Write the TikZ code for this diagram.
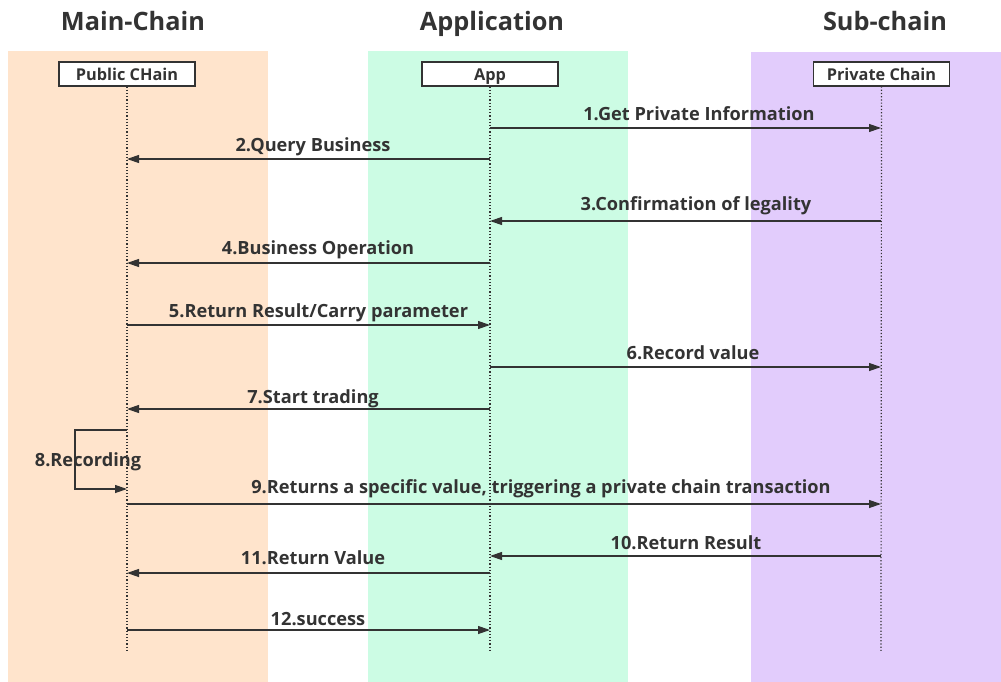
\documentclass[tikz,border=0pt]{standalone}
\usepackage{fontspec}
\setmainfont{Open Sans}
\usetikzlibrary{arrows.meta}
\definecolor{ink}{HTML}{333333}
\definecolor{mainband}{HTML}{FFE4CC}
\definecolor{appband}{HTML}{CCFCE4}
\definecolor{subband}{HTML}{E2CCFC}
\begin{document}
\begin{tikzpicture}[x=1pt,y=-1pt,
  header/.style={font=\bfseries\fontsize{25.3}{30}\selectfont, text=ink, anchor=base},
  actor/.style={draw=ink, line width=1.1pt, fill=white, minimum width=136pt, minimum height=24pt, inner sep=0pt, text height=13pt, text depth=0pt, font=\bfseries\fontsize{16.3}{19}\selectfont, text=ink},
  lifeline/.style={draw=ink, line width=1.2pt, dotted},
  msg/.style={draw=ink, line width=1.2pt, -{Triangle[length=12pt,width=8pt]}},
  lbl/.style={font=\bfseries\fontsize{18.2}{21}\selectfont, text=ink, inner sep=0pt, anchor=base}
]
\useasboundingbox (0,0) rectangle (1001,682);
\fill[white] (0,0) rectangle (1001,682);
% column bands
\fill[mainband] (8,51) rectangle (268,682);
\fill[appband] (368,51) rectangle (628,682);
\fill[subband] (751,52) rectangle (1001,682);
% column headers
\node[header] (hmain) at (133,31) {Main-Chain};
\node[header] (happ) at (492,31) {Application};
\node[header] (hsub) at (885,31) {Sub-chain};
% participants
\node[actor] (pub) at (127,74) {Public CHain};
\node[actor] (app) at (490,74) {App};
\node[actor] (priv) at (881.5,74) {Private Chain};
\coordinate (pubend) at (127,652);
\coordinate (append) at (490,652);
\coordinate (privend) at (881,652);
\draw[lifeline] (pub.south) -- (pubend);
\draw[lifeline] (app.south) -- (append);
\draw[lifeline] (priv.south) -- (privend);
% message anchor points on the lifelines
\foreach \n/\y in {1/128,2/159,3/221,4/263,5/325,6/367,7/409,8/430,8b/489,9/504,10/556,11/573,12/630}{
  \coordinate (P\n) at (127,\y);
  \coordinate (A\n) at (490,\y);
  \coordinate (S\n) at (881,\y);
}
\coordinate (L8a) at (75,430);
\coordinate (L8b) at (75,489);
% messages
\draw[msg] (A1) -- (S1);
\draw[msg] (A2) -- (P2);
\draw[msg] (S3) -- (A3);
\draw[msg] (A4) -- (P4);
\draw[msg] (P5) -- (A5);
\draw[msg] (A6) -- (S6);
\draw[msg] (A7) -- (P7);
\draw[msg] (P8) -- (L8a) -- (L8b) -- (P8b);
\draw[msg] (P9) -- (S9);
\draw[msg] (S10) -- (A10);
\draw[msg] (A11) -- (P11);
\draw[msg] (P12) -- (A12);
% message labels
\node[lbl] (l1) at (699,121) {1.Get Private Information};
\node[lbl] (l2) at (313,151) {2.Query Business};
\node[lbl] (l3) at (696,210) {3.Confirmation of legality};
\node[lbl] (l4) at (318,254) {4.Business Operation};
\node[lbl] (l5) at (318.5,317) {5.Return Result/Carry parameter};
\node[lbl] (l6) at (693,359) {6.Record value};
\node[lbl] (l7) at (313,403) {7.Start trading};
\node[lbl] (l8) at (88,466) {8.Recording};
\node[lbl] (l9) at (541,493) {9.Returns a specific value, triggering a private chain transaction};
\node[lbl] (l10) at (686,549) {10.Return Result};
\node[lbl] (l11) at (313,564) {11.Return Value};
\node[lbl] (l12) at (318,625) {12.success};
\end{tikzpicture}
\end{document}
